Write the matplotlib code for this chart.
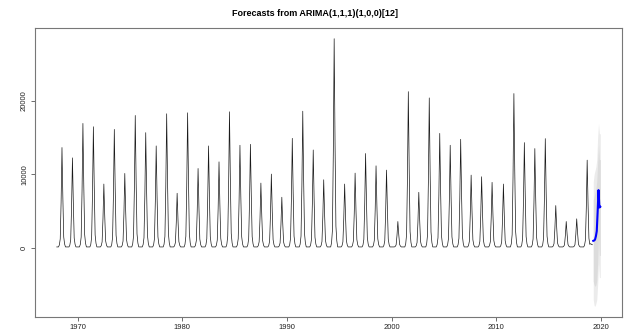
import numpy as np
import matplotlib
matplotlib.use("Agg")
import matplotlib.pyplot as plt

plt.rcParams['font.family'] = ['Liberation Sans', 'DejaVu Sans']

# yearly seasonal peak, 1968..2018
years = list(range(1968, 2019))
peaks = [13480, 12080, 16750, 16300, 8530, 15940, 9970, 17830, 15500, 13700,
         18060, 7280, 18190, 10640, 13700, 11540, 18330, 13790, 13920, 8660,
         9880, 6740, 14730, 18410, 13150, 9110, 28240, 8530, 10010, 12670,
         11000, 10420, 3450, 21060, 7410, 20210, 15400, 13790, 14600, 9740,
         9520, 8760, 8530, 20800, 14150, 13340, 14690, 5610, 3450, 3810, 11770]
# month of the peak (0 = Jan), drifts later over the years
peak_month = [6] * 32 + [7] * 10 + [8] * 9
# shape of one season around the peak month (offsets -3..+3)
season_shape = [0.02, 0.08, 0.45, 1.0, 0.5, 0.1, 0.03]
baseline = 150
tail_2019 = [600, 480, 450]  # Jan-Mar 2019

# forecast Apr-Dec 2019
fc_mean = [980, 1020, 1150, 1600, 2300, 4900, 7860, 5500, 5600]
fc_lo80 = [-4500, -5000, -5200, -5000, -4400, -2000, 1700, -1000, -1000]
fc_hi80 = [6500, 7000, 7500, 8000, 9000, 11500, 14000, 12000, 12000]
fc_lo95 = [-7000, -7800, -7900, -7500, -7000, -5000, -2000, -4000, -4000]
fc_hi95 = [9000, 10000, 10500, 11000, 12000, 15000, 16900, 15500, 15500]

# build monthly series
values = []
for yr, pk, pm in zip(years, peaks, peak_month):
    row = [baseline] * 12
    for k, frac in enumerate(season_shape):
        m = pm + k - 3
        if 0 <= m < 12:
            row[m] = baseline + frac * pk
    values.extend(row)
values.extend(tail_2019)
t = 1968 + np.arange(len(values)) / 12.0
t_fc = t[-1] + (1 + np.arange(len(fc_mean))) / 12.0

fig = plt.figure(figsize=(6.29, 3.33), dpi=100)
ax = fig.add_axes([35 / 629, 16 / 333, 587 / 629, 289 / 333])

ax.fill_between(t_fc, fc_lo95, fc_hi95, color='#ebebeb', lw=0)
ax.fill_between(t_fc, fc_lo80, fc_hi80, color='#dcdcdc', lw=0)
ax.plot(t, values, color='#1a1a1a', lw=0.5)
ax.plot(t_fc, fc_mean, color='#0000ff', lw=1.5)

# R style 4% padding
x0, x1 = t[0], t_fc[-1]
y0, y1 = min(fc_lo95), max(max(values), max(fc_hi95))
ax.set_xlim(x0 - 0.04 * (x1 - x0), x1 + 0.04 * (x1 - x0))
ax.set_ylim(y0 - 0.04 * (y1 - y0), y1 + 0.04 * (y1 - y0))

ax.set_xticks([1970, 1980, 1990, 2000, 2010, 2020])
ax.set_yticks([0, 10000, 20000])
ax.set_yticklabels(['0', '10000', '20000'], rotation=90, va='center')
ax.tick_params(labelsize=5.5, length=3, width=0.6, color='#555555',
               labelcolor='#222222', pad=2)
for s in ax.spines.values():
    s.set_color('#777777')
    s.set_linewidth(0.8)

fig.text(0.5, 1 - 14 / 333, 'Forecasts from ARIMA(1,1,1)(1,0,0)[12]',
         ha='center', va='center', fontsize=6.5, fontweight='bold')

fig.savefig('out.png', dpi=100)
